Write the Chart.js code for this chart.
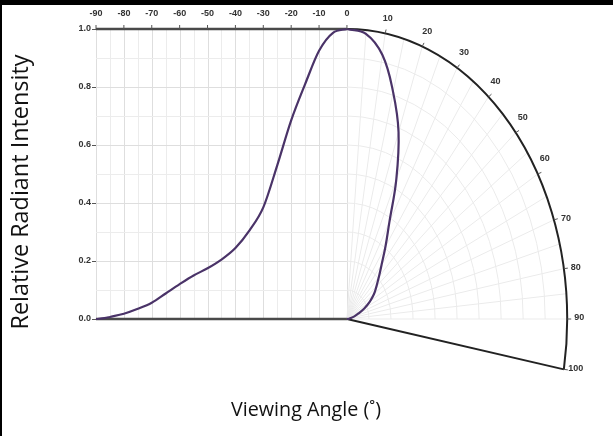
<!DOCTYPE html>
<html>
<head>
<meta charset="utf-8">
<script src="https://cdn.jsdelivr.net/npm/chart.js@4.4.0/dist/chart.umd.min.js"></script>
<style>
  html, body { margin: 0; padding: 0; background: #fff; }
  #wrap { position: relative; width: 613px; height: 436px; overflow: hidden; background: #fff; }
  #c { position: absolute; left: 0; top: 0; }
  #topbar { position: absolute; left: 0; top: 0; width: 613px; height: 5px; background: #000; }
  #leftbar { position: absolute; left: 0; top: 0; width: 2px; height: 436px; background: #000; }
</style>
</head>
<body>
<div id="wrap">
  <canvas id="c" width="613" height="436"></canvas>
  <div id="topbar"></div>
  <div id="leftbar"></div>
</div>
<script>
// ---- Data ----
const angles    = [0, 5, 10, 15, 20, 25, 30, 35, 40, 45, 50, 55, 60, 65, 70, 75, 80, 85, 87, 90];
const intensity = [1.0, 0.987, 0.925, 0.81, 0.685, 0.53, 0.385, 0.305, 0.245, 0.205, 0.175, 0.15, 0.12, 0.088, 0.056, 0.035, 0.018, 0.007, 0.003, 0.0];
const topTickLabels   = [-90, -80, -70, -60, -50, -40, -30, -20, -10, 0];
const yTickLabels     = [0.0, 0.2, 0.4, 0.6, 0.8, 1.0];
const polarTickLabels = [10, 20, 30, 40, 50, 60, 70, 80, 90, 100];
const xTitle = 'Viewing Angle (\u02DA)';
const yTitle = 'Relative Radiant Intensity';

// horizontal stretch of the polar quadrant, in x-axis units per unit radius
const polarXScale = 79;
const rad = d => d * Math.PI / 180;

const leftCurve = angles.map((a, i) => ({ x: -a, y: intensity[i] })).reverse();
const polarCurve = angles.map((a, i) => ({
  x: polarXScale * intensity[i] * Math.sin(rad(a)),
  y: intensity[i] * Math.cos(rad(a))
}));

const framePlugin = {
  id: 'frame',
  beforeDatasetsDraw(chart) {
    const ctx = chart.ctx;
    const xs = chart.scales.x, ys = chart.scales.y;
    const px = v => xs.getPixelForValue(v);
    const py = v => ys.getPixelForValue(v);
    const cx = px(0), cy = py(0);
    const rx = px(polarXScale) - cx;
    const ry = cy - py(1);
    ctx.save();
    // left cartesian grid
    ctx.lineWidth = 1;
    for (let a = -90; a <= 0; a += 5) {
      ctx.strokeStyle = (a % 10 === 0) ? '#dedede' : '#ececec';
      ctx.beginPath(); ctx.moveTo(Math.round(px(a)) + 0.5, py(0)); ctx.lineTo(Math.round(px(a)) + 0.5, py(1)); ctx.stroke();
    }
    for (let k = 1; k < 10; k++) {
      const v = k / 10;
      ctx.strokeStyle = (k % 2 === 0) ? '#dedede' : '#ececec';
      ctx.beginPath(); ctx.moveTo(px(-90), Math.round(py(v)) + 0.5); ctx.lineTo(px(0), Math.round(py(v)) + 0.5); ctx.stroke();
    }
    // polar grid
    ctx.strokeStyle = '#ebebeb';
    for (let a = 5; a <= 90; a += 5) {
      ctx.beginPath(); ctx.moveTo(cx, cy);
      ctx.lineTo(cx + rx * Math.sin(rad(a)), cy - ry * Math.cos(rad(a)));
      ctx.stroke();
    }
    for (let k = 1; k < 10; k++) {
      const r = k / 10;
      ctx.beginPath();
      ctx.ellipse(cx, cy, rx * r, ry * r, 0, rad(-90), rad(0));
      ctx.stroke();
    }
    // axis frame
    ctx.strokeStyle = '#4a4a4a';
    ctx.lineWidth = 2.5;
    ctx.beginPath(); ctx.moveTo(px(-90), py(1)); ctx.lineTo(cx, py(1)); ctx.stroke();
    ctx.beginPath(); ctx.moveTo(px(-90), cy); ctx.lineTo(cx, cy); ctx.stroke();
    ctx.strokeStyle = '#222';
    ctx.lineWidth = 2;
    ctx.beginPath();
    ctx.ellipse(cx, cy, rx, ry, 0, rad(-90), rad(10));
    ctx.stroke();
    ctx.beginPath(); ctx.moveTo(cx, cy);
    ctx.lineTo(cx + rx * Math.sin(rad(100)), cy - ry * Math.cos(rad(100)));
    ctx.stroke();
    ctx.restore();
  },
  afterDatasetsDraw(chart) {
    const ctx = chart.ctx;
    const xs = chart.scales.x, ys = chart.scales.y;
    const px = v => xs.getPixelForValue(v);
    const py = v => ys.getPixelForValue(v);
    const cx = px(0), cy = py(0);
    const rx = px(polarXScale) - cx;
    const ry = cy - py(1);
    ctx.save();
    ctx.fillStyle = '#333';
    ctx.strokeStyle = '#555';
    ctx.lineWidth = 1;
    ctx.font = 'bold 9px "Liberation Sans Narrow", "Liberation Sans", sans-serif';
    // top ticks
    ctx.textAlign = 'center'; ctx.textBaseline = 'middle';
    topTickLabels.forEach(v => {
      const x = px(v);
      ctx.fillText(String(v), x, py(1) - 15);
      ctx.beginPath(); ctx.moveTo(x, py(1) - 4); ctx.lineTo(x, py(1)); ctx.stroke();
    });
    // y ticks
    ctx.textAlign = 'right';
    yTickLabels.forEach(v => {
      const y = py(v);
      ctx.fillText(v.toFixed(1), px(-90) - 5, y);
      ctx.beginPath(); ctx.moveTo(px(-90) - 4, y + 0.5); ctx.lineTo(px(-90), y + 0.5); ctx.stroke();
    });
    // polar ticks
    ctx.textAlign = 'center';
    polarTickLabels.forEach(a => {
      const ax = cx + rx * Math.sin(rad(a));
      const ay = cy - ry * Math.cos(rad(a));
      let dx, dy;
      if (a <= 60) { dx = Math.min(a * 0.25, 7); dy = -15; }
      else { dx = 12; dy = -1; }
      ctx.fillText(String(a), ax + dx, ay + dy);
      const nx = Math.sin(rad(a)) / rx, ny = -Math.cos(rad(a)) / ry;
      const nl = Math.hypot(nx, ny);
      ctx.beginPath(); ctx.moveTo(ax, ay); ctx.lineTo(ax + 4 * nx / nl, ay + 4 * ny / nl); ctx.stroke();
    });
    // axis titles
    ctx.fillStyle = '#111';
    ctx.textAlign = 'center'; ctx.textBaseline = 'alphabetic';
    let fs = 18;
    ctx.font = fs + 'px "Open Sans", sans-serif';
    let w = ctx.measureText(xTitle).width;
    fs = fs * 150 / w;
    ctx.font = fs.toFixed(2) + 'px "Open Sans", sans-serif';
    ctx.fillText(xTitle, 306, 416);
    fs = 18;
    ctx.font = fs + 'px "Open Sans", sans-serif';
    w = ctx.measureText(yTitle).width;
    fs = fs * 275 / w;
    ctx.font = fs.toFixed(2) + 'px "Open Sans", sans-serif';
    ctx.translate(28, 192);
    ctx.rotate(-Math.PI / 2);
    ctx.fillText(yTitle, 0, 0);
    ctx.restore();
  }
};

new Chart(document.getElementById('c'), {
  type: 'scatter',
  data: {
    datasets: [
      { label: 'Relative intensity (cartesian)', data: leftCurve, showLine: true,
        borderColor: '#4a3368', borderWidth: 2.2, pointRadius: 0, cubicInterpolationMode: 'monotone', clip: false },
      { label: 'Relative intensity (polar)', data: polarCurve, showLine: true,
        borderColor: '#4a3368', borderWidth: 2.2, pointRadius: 0, tension: 0.4, clip: false }
    ]
  },
  options: {
    responsive: false,
    animation: false,
    devicePixelRatio: 1,
    layout: { padding: { left: 96, top: 29, right: 43, bottom: 59 } },
    scales: {
      x: { type: 'linear', min: -90, max: 80, display: false },
      y: { type: 'linear', min: -0.2, max: 1.0, display: false }
    },
    plugins: { legend: { display: false }, tooltip: { enabled: false } }
  },
  plugins: [framePlugin]
});
</script>
</body>
</html>
